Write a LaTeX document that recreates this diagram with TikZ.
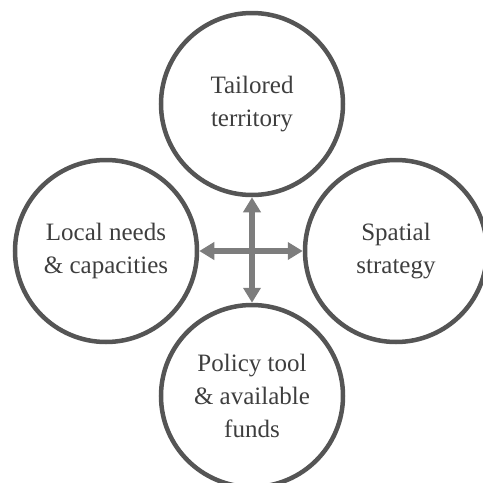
\documentclass[tikz,border=0pt]{standalone}
\usepackage{fontspec}
\setmainfont{Liberation Serif}
\usetikzlibrary{arrows.meta}
\definecolor{ringgray}{RGB}{85,85,85}
\definecolor{arrowgray}{RGB}{125,125,125}
\definecolor{textgray}{RGB}{62,62,62}

\begin{document}
\begin{tikzpicture}[x=1pt,y=-1pt,
  ring/.style={circle,draw=ringgray,line width=4.5pt,minimum size=182pt,inner sep=0pt,
    align=center,text=textgray,font=\fontsize{25}{33}\selectfont},
  link/.style={arrowgray,line width=6pt,{Triangle[width=17pt,length=15pt]}-{Triangle[width=17pt,length=15pt]}}]
\useasboundingbox (0,0) rectangle (483,483);
\node[ring] (tailored) at (252,104) {Tailored\\territory};
\node[ring] (local) at (106,251) {Local needs\\\& capacities};
\node[ring] (spatial) at (396,251) {Spatial\\strategy};
\node[ring] (policy) at (252,396) {Policy tool\\\& available\\funds};
\draw[link] (tailored) -- (policy);
\draw[link] (local) -- (spatial);
\end{tikzpicture}
\end{document}
